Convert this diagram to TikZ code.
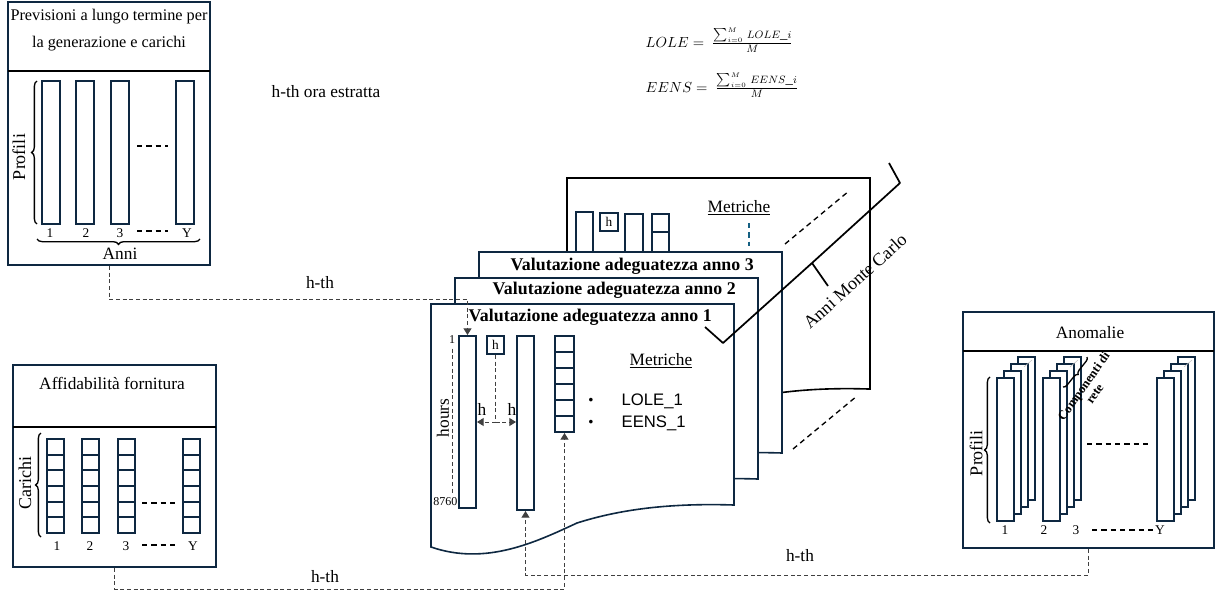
\documentclass[tikz,border=0pt]{standalone}
\usepackage{fontspec}
\setmainfont{Liberation Serif}
\setsansfont{Liberation Sans}
\usetikzlibrary{arrows.meta,decorations.pathreplacing,fit}

\definecolor{blunotte}{RGB}{14,40,65}
\definecolor{bluacqua}{RGB}{21,96,130}

\tikzset{
  riquadro/.style={draw=blunotte, line width=1.5pt, inner sep=0pt},
  barra/.style={draw=blunotte, line width=1.5pt, fill=white, inner sep=0pt},
  pagina/.style={draw=blunotte, line width=1.2pt, fill=white},
  divisore/.style={line width=1pt},
  tratteggio/.style={dash pattern=on 4pt off 3pt, line width=1pt},
  collega/.style={dash pattern=on 3pt off 2pt, line width=0.7pt, draw=black!75},
  freccia/.style={collega, -{Triangle[length=5pt,width=6pt]}},
  graffa/.style={decorate, decoration={brace, amplitude=#1}, line width=1pt},
  graffa/.default=4pt,
  testo/.style={font=\fontsize{13}{15}\selectfont},
  titolo/.style={font=\bfseries\fontsize{13.4}{15}\selectfont, anchor=west},
  piccolo/.style={font=\fontsize{10}{11}\selectfont},
  minimo/.style={font=\fontsize{9}{10}\selectfont},
  formula/.style={font=\fontsize{11}{13}\selectfont, anchor=west},
}

% pagina di documento con bordo inferiore ondulato
\newcommand{\foglio}[2]{%
  \begin{scope}[#1]
    \draw[#2] (0,0) -- (303,0) -- (303,201) .. controls (240,199) and (190,205) .. (146,219)
      .. controls (105,238) and (55,262) .. (0,243) -- cycle;
  \end{scope}}

\begin{document}
\begin{tikzpicture}[x=0.75pt,y=0.75pt,yscale=-1,testo]
\useasboundingbox (0,0) rectangle (1216,592);

%% Previsioni a lungo termine
\node[riquadro, fit={(8,2) (210,265)}] (prev) {};
\draw[divisore] (8,71) -- (210,71);
\node[align=center, font=\fontsize{12.2}{20}\selectfont] (prevT) at (109,30) {Previsioni a lungo termine per\\la generazione e carichi};
\foreach \x in {42,76,111,176} \draw[barra] (\x,81) rectangle ++(18,143);
\draw[tratteggio] (137,146) -- (168,146);
\draw[graffa] (37,224) -- (37,81);
\node[rotate=90, font=\fontsize{13.5}{15}\selectfont] (profA) at (19,157) {Profili};
\foreach \x/\t in {50/1,86/2,120/3,187/Y} \node[piccolo] (prev\t) at (\x,233) {\t};
\draw[tratteggio] (137,231) -- (168,231);
\draw[graffa] (200,239) -- (37,239);
\node (anniA) at (120,254) {Anni};

%% Affidabilita fornitura
\node[riquadro, fit={(13,365) (216,567)}] (affid) {};
\draw[divisore] (13,427) -- (216,427);
\node (affidT) at (112,383) {Affidabilità fornitura};
\foreach \x in {47,82,118,183} {
  \draw[barra] (\x,439) rectangle ++(17,94);
  \foreach \k in {1,...,5} \draw[barra] (\x,439+15.67*\k) -- ++(17,0);
}
\draw[graffa] (41,537) -- (41,433);
\node[rotate=90, font=\fontsize{13.5}{15}\selectfont] (carichi) at (25,483) {Carichi};
\draw[tratteggio] (142,503) -- (175,503);
\draw[tratteggio] (142,545) -- (175,545);
\foreach \x/\t in {57/1,90/2,126/3,193/Y} \node[piccolo] (car\t) at (\x,546) {\t};

%% Anomalie
\node[riquadro, fit={(963,312) (1214,548)}] (anom) {};
\draw[divisore] (963,351) -- (1214,351);
\node (anomT) at (1090,333) {Anomalie};
\foreach \x in {997,1043,1157} {
  \foreach \k in {3,2,1,0} \draw[barra, line width=1.2pt] (\x+7*\k,378-7*\k) rectangle ++(17,143);
  \draw[gray!50, thin] (\x+27,367) -- (\x+35,360);
}
\draw[graffa] (990,523) -- (990,377);
\node[rotate=90, font=\fontsize{13.5}{15}\selectfont] (profB) at (976,453) {Profili};
\draw[tratteggio] (1087,444) -- (1148,444);
\draw[tratteggio] (1092,530) -- (1153,530);
\foreach \x/\t in {1005/1,1044/2,1076/3,1160/Y} \node[piccolo] (an\t) at (\x,530) {\t};
\draw[graffa=3pt] (1087,357) -- (1063,387);
\node[rotate=55, align=center, font=\bfseries\fontsize{9.5}{10}\selectfont] (comp) at (1089,390) {Componenti di\\rete};

%% formule e testo
\node[formula] (lole) at (641,40) {$LOLE =\ \frac{\sum_{i=0}^{M}\, LOLE\_i}{M}$};
\node[formula] (eens) at (641,85) {$EENS =\ \frac{\sum_{i=0}^{M}\, EENS\_i}{M}$};
\node (estratta) at (326,92) {h-th ora estratta};

%% pagina di fondo
\foglio{shift={(567,178)},yscale=1.05}{pagina, draw=black}
\draw[barra] (576,212) rectangle (593,262);
\node[riquadro, fill=white, fit={(600,213) (618,231)}] (hD) {};
\node[piccolo] (hDt) at (hD) {h};
\draw[barra] (625,214) rectangle (643,262);
\draw[barra] (652,214) rectangle (669,262);
\draw[barra] (652,232) -- (669,232);
\node (metD) at (739,208) {\underline{Metriche}};
\draw[bluacqua, dash pattern=on 4pt off 3pt, line width=1pt] (749,223) -- (749,246);
\draw[tratteggio] (785,244) -- (849,191);
\draw[tratteggio] (793,449) -- (857,396);

%% pagine anni
\foglio{shift={(479,252)}}{pagina}
\node[titolo] (anno3) at (506,266) {Valutazione adeguatezza anno 3};
\foglio{shift={(455,278)}}{pagina}
\node[titolo] (anno2) at (488,290) {Valutazione adeguatezza anno 2};
\foglio{shift={(431,304)}}{pagina}
\node[titolo] (anno1) at (464,317) {Valutazione adeguatezza anno 1};

%% contenuto anno 1
\node[barra, fit={(459,336) (476,508)}] (oreA) {};
\node[minimo] (ora1) at (452,340) {1};
\node[minimo, anchor=east] (ora8760) at (462,502) {8760};
\draw[collega] (ora1.south) -- (ora1.south |- ora8760.north);
\node[rotate=90] (ore) at (443,418) {hours};
\node[riquadro, fill=white, fit={(487,336) (504,354)}] (oraH) {};
\node[piccolo] (oraHt) at (oraH) {h};
\node[barra, fit={(517,336) (534,510)}] (barraB) {};
\node[barra, fit={(555,336) (574,432)}] (celle) {};
\foreach \k in {1,...,5} \draw[barra] (555,336+16*\k) -- ++(19,0);
\coordinate (bivio) at (495.5,422);
\draw[collega] (oraH.south) -- (bivio);
\draw[freccia] (bivio) -- (bivio -| oreA.east);
\draw[freccia] (bivio) -- (bivio -| barraB.west);
\node (hsx) at (482,409) {h};
\node (hdx) at (512,409) {h};
\node (met) at (661,361) {\underline{Metriche}};
\node[font=\sffamily] (p1) at (591,401) {\textbullet};
\node[font=\sffamily] (p2) at (591,423) {\textbullet};
\node[font=\sffamily\fontsize{12.5}{14}\selectfont, anchor=west] (lole1) at (617,401) {LOLE\_1};
\node[font=\sffamily\fontsize{12.5}{14}\selectfont, anchor=west] (eens1) at (617,423) {EENS\_1};

%% graffa anni Monte Carlo
\draw[line width=1.3pt, line join=round] (705,327) -- (723,343) -- (812,263) -- (828,286) (812,263) -- (900,183) -- (889,163);
\node[rotate=42, font=\fontsize{13.5}{15}\selectfont] (mc) at (855,281) {Anni Monte Carlo};

%% collegamenti
\draw[freccia] (prev.south) -- ++(0,33) -| (oreA.north);
\node (hth1) at (320,283) {h-th};
\draw[freccia] (affid.south) -- ++(0,21) -| (celle.south);
\node (hth2) at (325,577) {h-th};
\draw[freccia] (anom.south) -- ++(0,26) -| (barraB.south);
\node (hth3) at (800,556) {h-th};

\end{tikzpicture}
\end{document}
